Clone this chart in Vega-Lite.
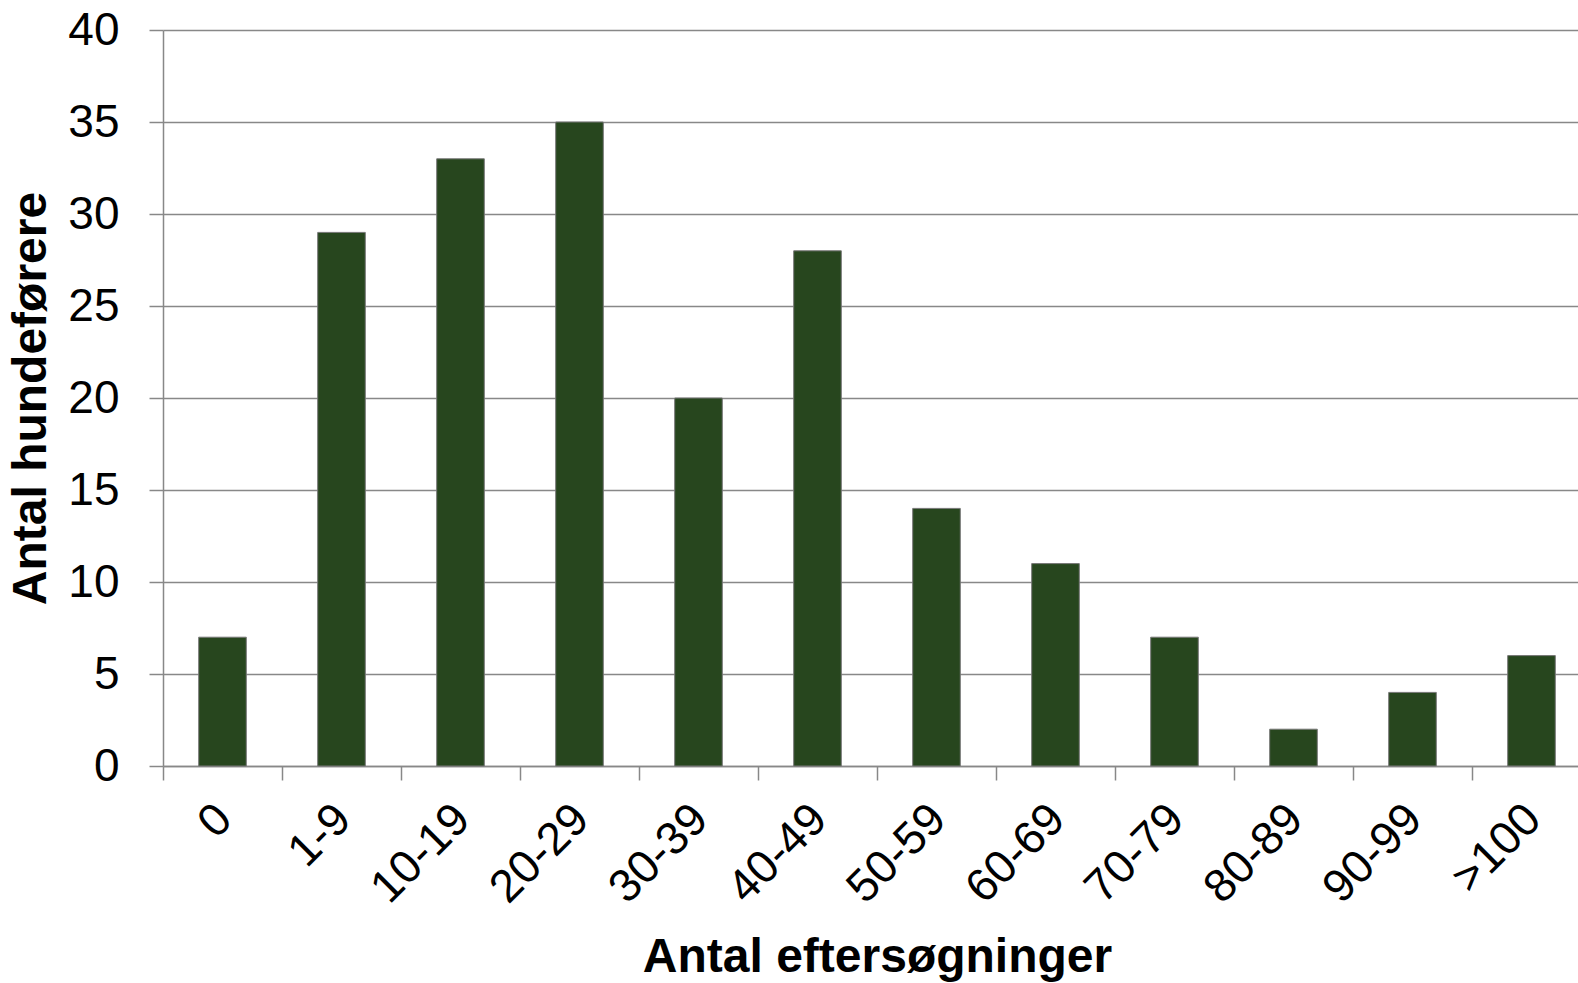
{
  "$schema": "https://vega.github.io/schema/vega-lite/v6.json",
  "autosize": "none",
  "width": 1428,
  "height": 736,
  "padding": {"left": 163, "top": 30, "right": 0, "bottom": 217},
  "background": "white",
  "config": {"view": {"stroke": null}, "font": "Liberation Sans"},
  "data": {"values": [
    {"kategori": "0", "antal": 7},
    {"kategori": "1-9", "antal": 29},
    {"kategori": "10-19", "antal": 33},
    {"kategori": "20-29", "antal": 35},
    {"kategori": "30-39", "antal": 20},
    {"kategori": "40-49", "antal": 28},
    {"kategori": "50-59", "antal": 14},
    {"kategori": "60-69", "antal": 11},
    {"kategori": "70-79", "antal": 7},
    {"kategori": "80-89", "antal": 2},
    {"kategori": "90-99", "antal": 4},
    {"kategori": ">100", "antal": 6}
  ]},
  "mark": {"type": "bar", "color": "#27461e", "stroke": "#777777", "strokeWidth": 1, "width": {"band": 0.4}},
  "encoding": {
    "x": {
      "field": "kategori", "type": "nominal", "sort": null,
      "scale": {"paddingInner": 0, "paddingOuter": 0},
      "axis": {
        "title": "Antal eftersøgninger",
        "titleFont": "Liberation Sans", "titleFontSize": 48, "titleFontWeight": "bold", "titleColor": "black",
        "titlePadding": 22,
        "labelFont": "Liberation Sans", "labelFontSize": 46, "labelColor": "black",
        "labelAngle": -45, "labelPadding": 16, "labelOffset": -14,
        "tickBand": "extent", "tickSize": 14, "tickColor": "#888888", "tickWidth": 1.5,
        "domainColor": "#888888", "domainWidth": 1.5,
        "grid": false
      }
    },
    "y": {
      "field": "antal", "type": "quantitative",
      "scale": {"domain": [0, 40], "nice": false},
      "axis": {
        "title": "Antal hundeførere",
        "titleFont": "Liberation Sans", "titleFontSize": 48, "titleFontWeight": "bold", "titleColor": "black",
        "titlePadding": 12,
        "values": [0, 5, 10, 15, 20, 25, 30, 35, 40],
        "labelFont": "Liberation Sans", "labelFontSize": 46, "labelColor": "black",
        "labelPadding": 30,
        "tickSize": 14, "tickColor": "#888888", "tickWidth": 1.5,
        "domainColor": "#888888", "domainWidth": 1.5,
        "grid": true, "gridColor": "#888888", "gridWidth": 1.5, "gridOpacity": 1
      }
    }
  }
}
